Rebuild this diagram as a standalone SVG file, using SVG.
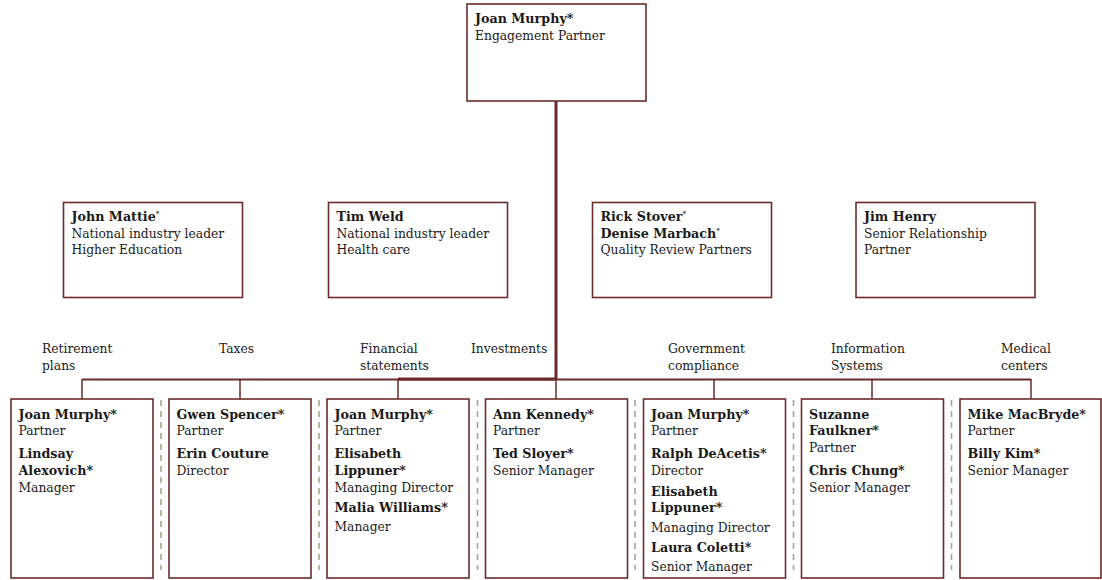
<svg xmlns="http://www.w3.org/2000/svg" width="1102" height="580" viewBox="0 0 1102 580">
<style>
.box{fill:#fff;stroke:#6b2b2b;stroke-width:1.6}
text{font-family:"DejaVu Serif","Liberation Serif",serif;font-size:12.3px;fill:#1a1a1a}
.b{font-weight:bold;font-size:12.7px}
.sup{font-size:7px}
.conn{stroke:#6b2b2b;fill:none}
.sep{stroke:#ada484;stroke-width:1.6;stroke-dasharray:6 5;fill:none}
</style>
<rect width="1102" height="580" fill="#fff"/>
<g id="connectors">
<line class="conn" x1="556" y1="101" x2="556" y2="380" stroke-width="3"/>
<line class="conn" x1="82" y1="379.5" x2="1031" y2="379.5" stroke-width="2"/>
<line class="conn" x1="398" y1="379" x2="556" y2="379" stroke-width="3"/>
<line class="conn" x1="82" y1="379" x2="82" y2="399" stroke-width="1.5"/>
<line class="conn" x1="240" y1="379" x2="240" y2="399" stroke-width="1.5"/>
<line class="conn" x1="398" y1="379" x2="398" y2="399" stroke-width="1.5"/>
<line class="conn" x1="556" y1="379" x2="556" y2="399" stroke-width="1.5"/>
<line class="conn" x1="714" y1="379" x2="714" y2="399" stroke-width="1.5"/>
<line class="conn" x1="872" y1="379" x2="872" y2="399" stroke-width="1.5"/>
<line class="conn" x1="1031" y1="379" x2="1031" y2="399" stroke-width="1.5"/>
</g>
<g id="separators">
<line class="sep" x1="161" y1="400" x2="161" y2="570"/>
<line class="sep" x1="319" y1="400" x2="319" y2="570"/>
<line class="sep" x1="477.5" y1="400" x2="477.5" y2="570"/>
<line class="sep" x1="635" y1="400" x2="635" y2="570"/>
<line class="sep" x1="793.5" y1="400" x2="793.5" y2="570"/>
<line class="sep" x1="951.5" y1="400" x2="951.5" y2="570"/>
</g>
<g id="labels">
<text x="42" y="353">Retirement</text>
<text x="42" y="370">plans</text>
<text x="219" y="353">Taxes</text>
<text x="360" y="353">Financial</text>
<text x="360" y="370">statements</text>
<text x="471" y="353">Investments</text>
<text x="668" y="353">Government</text>
<text x="668" y="370">compliance</text>
<text x="831" y="353">Information</text>
<text x="831" y="370">Systems</text>
<text x="1001" y="353">Medical</text>
<text x="1001" y="370">centers</text>
</g>
<g id="top">
<rect class="box" x="467" y="4" width="179" height="97"/>
<text x="475" y="23" class="b">Joan Murphy*</text>
<text x="475" y="39.5">Engagement Partner</text>
</g>
<g id="mattie">
<rect class="box" x="63.5" y="202.5" width="179" height="95"/>
<text x="71.5" y="221" class="b">John Mattie<tspan class="sup" dy="-5">*</tspan></text>
<text x="71.5" y="237.5">National industry leader</text>
<text x="71.5" y="254">Higher Education</text>
</g>
<g id="weld">
<rect class="box" x="328.5" y="202.5" width="179" height="95"/>
<text x="336.5" y="221" class="b">Tim Weld</text>
<text x="336.5" y="237.5">National industry leader</text>
<text x="336.5" y="254">Health care</text>
</g>
<g id="stover">
<rect class="box" x="592.5" y="202.5" width="179" height="95"/>
<text x="600.5" y="221" class="b">Rick Stover<tspan class="sup" dy="-5">*</tspan></text>
<text x="600.5" y="237.5" class="b">Denise Marbach<tspan class="sup" dy="-5">*</tspan></text>
<text x="600.5" y="254">Quality Review Partners</text>
</g>
<g id="henry">
<rect class="box" x="856" y="202.5" width="179" height="95"/>
<text x="864" y="221" class="b">Jim Henry</text>
<text x="864" y="237.5">Senior Relationship</text>
<text x="864" y="254">Partner</text>
</g>
<g id="retirement">
<rect class="box" x="11" y="399" width="142" height="179"/>
<text x="18.5" y="419" class="b">Joan Murphy*</text>
<text x="18.5" y="435">Partner</text>
<text x="18.5" y="458.3" class="b">Lindsay</text>
<text x="18.5" y="475" class="b">Alexovich*</text>
<text x="18.5" y="491.7">Manager</text>
</g>
<g id="taxes">
<rect class="box" x="169" y="399" width="142" height="179"/>
<text x="176.5" y="419" class="b">Gwen Spencer*</text>
<text x="176.5" y="435">Partner</text>
<text x="176.5" y="458.3" class="b">Erin Couture</text>
<text x="176.5" y="475">Director</text>
</g>
<g id="financial">
<rect class="box" x="327" y="399" width="142" height="179"/>
<text x="334.5" y="419" class="b">Joan Murphy*</text>
<text x="334.5" y="435">Partner</text>
<text x="334.5" y="458.3" class="b">Elisabeth</text>
<text x="334.5" y="475" class="b">Lippuner*</text>
<text x="334.5" y="491.7">Managing Director</text>
<text x="334.5" y="512.3" class="b">Malia Williams*</text>
<text x="334.5" y="531">Manager</text>
</g>
<g id="investments">
<rect class="box" x="485.5" y="399" width="142" height="179"/>
<text x="493" y="419" class="b">Ann Kennedy*</text>
<text x="493" y="435">Partner</text>
<text x="493" y="458.3" class="b">Ted Sloyer*</text>
<text x="493" y="475">Senior Manager</text>
</g>
<g id="government">
<rect class="box" x="643.5" y="399" width="142" height="179"/>
<text x="651" y="419" class="b">Joan Murphy*</text>
<text x="651" y="435">Partner</text>
<text x="651" y="458.3" class="b">Ralph DeAcetis*</text>
<text x="651" y="475">Director</text>
<text x="651" y="496" class="b">Elisabeth</text>
<text x="651" y="512.3" class="b">Lippuner*</text>
<text x="651" y="532.3">Managing Director</text>
<text x="651" y="552.3" class="b">Laura Coletti*</text>
<text x="651" y="571">Senior Manager</text>
</g>
<g id="information">
<rect class="box" x="801.5" y="399" width="142" height="179"/>
<text x="809" y="419" class="b">Suzanne</text>
<text x="809" y="435" class="b">Faulkner*</text>
<text x="809" y="451.7">Partner</text>
<text x="809" y="475" class="b">Chris Chung*</text>
<text x="809" y="491.7">Senior Manager</text>
</g>
<g id="medical">
<rect class="box" x="960" y="399" width="141" height="179"/>
<text x="967.5" y="419" class="b">Mike MacBryde*</text>
<text x="967.5" y="435">Partner</text>
<text x="967.5" y="458.3" class="b">Billy Kim*</text>
<text x="967.5" y="475">Senior Manager</text>
</g>
</svg>
